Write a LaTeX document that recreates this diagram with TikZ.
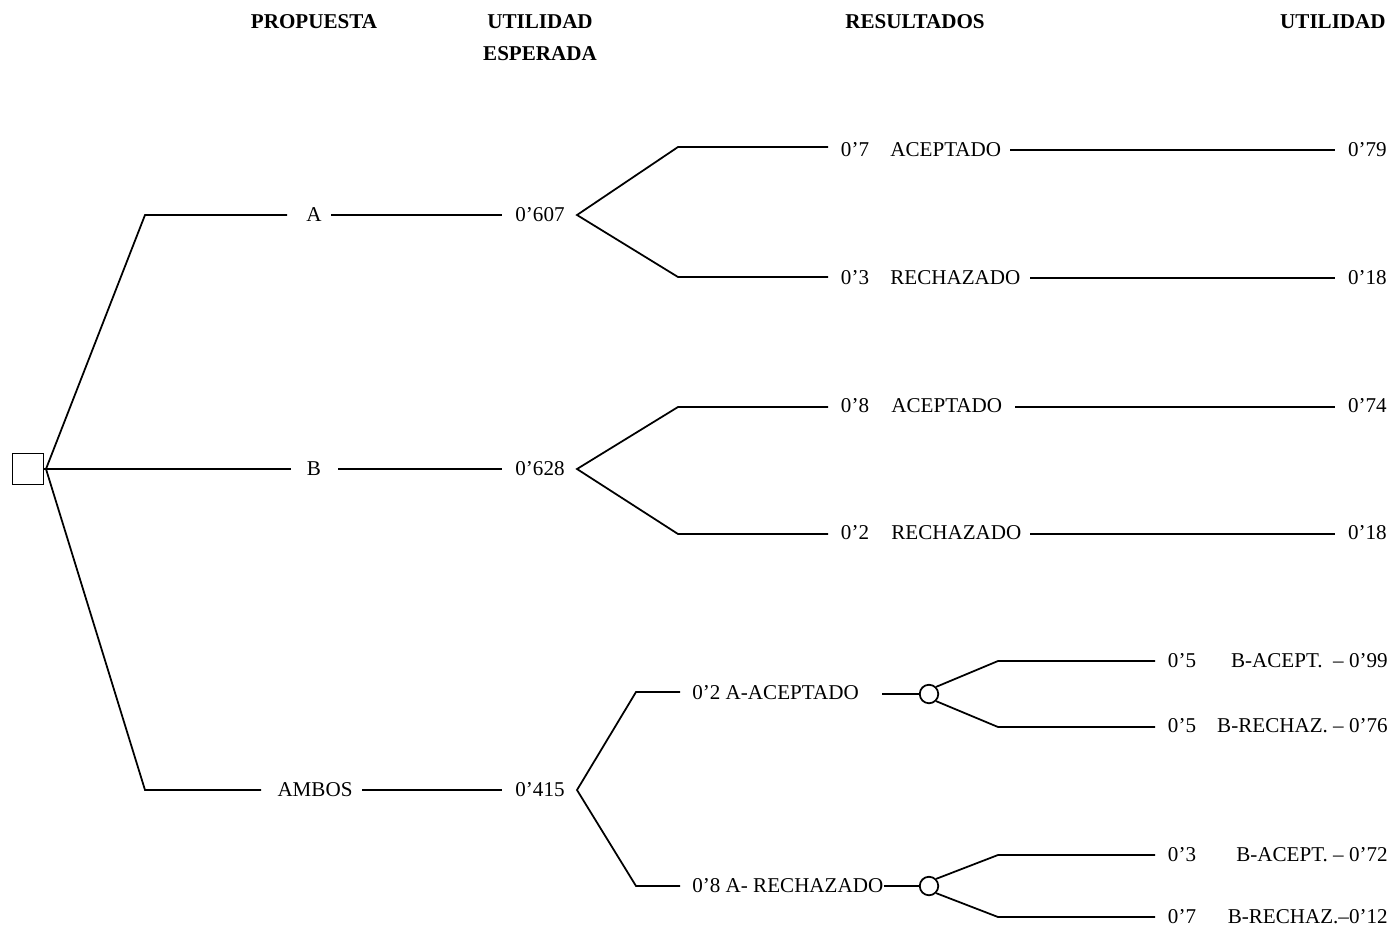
\documentclass[tikz,border=0pt]{standalone}
\usepackage{fontspec}
\setmainfont{Liberation Serif}
\begin{document}
\begin{tikzpicture}[x=0.02cm,y=-0.02cm,
  ln/.style={line width=1pt},
  lbl/.style={inner sep=0pt,font=\fontsize{12}{14}\selectfont},
  hdr/.style={inner sep=0pt,font=\fontsize{12}{14}\selectfont\bfseries},
  chance/.style={circle,draw,line width=1pt,minimum size=0.37cm,inner sep=0pt},
  decision/.style={rectangle,draw,line width=1pt,minimum size=0.62cm,inner sep=0pt}]
\useasboundingbox (0,0) rectangle (1393,930);
% headers
\node[hdr] (h1) at (314,22) {PROPUESTA};
\node[hdr] (h2) at (540,22) {UTILIDAD};
\node[hdr] (h3) at (540,54) {ESPERADA};
\node[hdr] (h4) at (915,22) {RESULTADOS};
\node[hdr,anchor=east] (h5) at (1386,22) {UTILIDAD};
% root
\node[decision] (sq) at (28,469) {};
\coordinate (r) at (46,469);
% branch A
\coordinate (a0) at (145,215);
\coordinate (a1) at (287,215);
\node[lbl] (A) at (314,215) {A};
\coordinate (a2) at (331,215);
\coordinate (a3) at (502,215);
\node[lbl] (uA) at (540,215) {0'607};
\coordinate (fA) at (577,215);
\coordinate (aU) at (678,147);
\coordinate (aU1) at (828,147);
\node[lbl] (pA1) at (855,150) {0'7};
\node[lbl,anchor=west] (oA1) at (890,150) {ACEPTADO};
\coordinate (aU2) at (1010,150);
\coordinate (aU3) at (1335,150);
\node[lbl,anchor=east] (vA1) at (1387,150) {0'79};
\coordinate (aL) at (678,277);
\coordinate (aL1) at (828,277);
\node[lbl] (pA2) at (855,278) {0'3};
\node[lbl,anchor=west] (oA2) at (890,278) {RECHAZADO};
\coordinate (aL2) at (1030,278);
\coordinate (aL3) at (1335,278);
\node[lbl,anchor=east] (vA2) at (1387,278) {0'18};
% branch B
\coordinate (b1) at (291,469);
\node[lbl] (B) at (314,469) {B};
\coordinate (b2) at (338,469);
\coordinate (b3) at (502,469);
\node[lbl] (uB) at (540,469) {0'628};
\coordinate (fB) at (577,469);
\coordinate (bU) at (678,407);
\coordinate (bU1) at (828,407);
\node[lbl] (pB1) at (855,406) {0'8};
\node[lbl,anchor=west] (oB1) at (891,406) {ACEPTADO};
\coordinate (bU2) at (1015,407);
\coordinate (bU3) at (1335,407);
\node[lbl,anchor=east] (vB1) at (1387,406) {0'74};
\coordinate (bL) at (678,534);
\coordinate (bL1) at (828,534);
\node[lbl] (pB2) at (855,533) {0'2};
\node[lbl,anchor=west] (oB2) at (891,533) {RECHAZADO};
\coordinate (bL2) at (1030,534);
\coordinate (bL3) at (1335,534);
\node[lbl,anchor=east] (vB2) at (1387,533) {0'18};
% branch AMBOS
\coordinate (c0) at (145,790);
\coordinate (c1) at (261,790);
\node[lbl] (C) at (315,790) {AMBOS};
\coordinate (c2) at (362,790);
\coordinate (c3) at (502,790);
\node[lbl] (uC) at (540,790) {0'415};
\coordinate (fC) at (577,790);
\coordinate (cU) at (636,692);
\coordinate (cU1) at (680,692);
\node[lbl,anchor=west] (oC1) at (692,693) {0'2 A-ACEPTADO};
\coordinate (cU2) at (882,694);
\node[chance] (n1) at (929,694) {};
\coordinate (dU) at (998,661);
\coordinate (dU1) at (1155,661);
\node[lbl] (p11) at (1182,661) {0'5};
\node[lbl,anchor=east] (v11) at (1388,661) {B-ACEPT.~~--~0'99};
\coordinate (dL) at (998,727);
\coordinate (dL1) at (1155,727);
\node[lbl] (p12) at (1182,726) {0'5};
\node[lbl,anchor=east] (v12) at (1388,726) {B-RECHAZ.~--~0'76};
\coordinate (cL) at (636,886);
\coordinate (cL1) at (680,886);
\node[lbl,anchor=west] (oC2) at (692,886) {0'8 A- RECHAZADO};
\node[chance] (n2) at (929,886) {};
\coordinate (eU) at (998,855);
\coordinate (eU1) at (1155,855);
\node[lbl] (p21) at (1182,855) {0'3};
\node[lbl,anchor=east] (v21) at (1388,855) {B-ACEPT.~--~0'72};
\coordinate (eL) at (998,917);
\coordinate (eL1) at (1155,917);
\node[lbl] (p22) at (1182,917) {0'7};
\node[lbl,anchor=east] (v22) at (1388,917) {B-RECHAZ.--0'12};
% lines
\draw[ln] (sq.east) -- (r);
\draw[ln] (r) -- (a0) -- (a1);
\draw[ln] (a2) -- (a3);
\draw[ln] (aU1) -- (aU) -- (fA) -- (aL) -- (aL1);
\draw[ln] (aU2) -- (aU3);
\draw[ln] (aL2) -- (aL3);
\draw[ln] (r) -- (b1);
\draw[ln] (b2) -- (b3);
\draw[ln] (bU1) -- (bU) -- (fB) -- (bL) -- (bL1);
\draw[ln] (bU2) -- (bU3);
\draw[ln] (bL2) -- (bL3);
\draw[ln] (r) -- (c0) -- (c1);
\draw[ln] (c2) -- (c3);
\draw[ln] (cU1) -- (cU) -- (fC) -- (cL) -- (cL1);
\draw[ln] (cU2) -- (n1.west);
\draw[ln] (dU1) -- (dU) -- (n1.north east);
\draw[ln] (dL1) -- (dL) -- (n1.south east);
\draw[ln] (oC2.east) -- (n2.west);
\draw[ln] (eU1) -- (eU) -- (n2.north east);
\draw[ln] (eL1) -- (eL) -- (n2.south east);
\end{tikzpicture}
\end{document}
